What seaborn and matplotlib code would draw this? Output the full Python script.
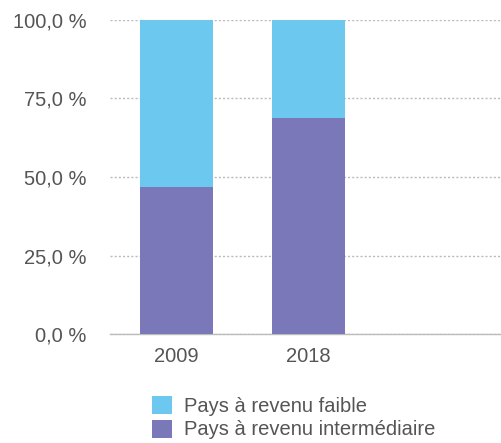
import matplotlib
matplotlib.use("Agg")
import matplotlib.pyplot as plt
import seaborn as sns
import pandas as pd
from matplotlib.patches import Patch

years = ["2009", "2018", ""]
intermediaire = [46.8, 68.8, 0.0]
faible = [53.2, 31.2, 0.0]
series_labels = ["Pays à revenu faible", "Pays à revenu intermédiaire"]
colors = ["#6DC8F0", "#7A78B8"]
yticks = [0, 25, 50, 75, 100]

sns.set_theme(style="white")
plt.rcParams['font.family'] = ['Liberation Sans', 'DejaVu Sans']

df = pd.DataFrame({"year": years, "inter": intermediaire,
                   "total": [a + b for a, b in zip(intermediaire, faible)]})

fig = plt.figure(figsize=(5.02, 4.43), dpi=100)
ax = fig.add_axes([0.219, 0.246, 0.781, 0.709])

sns.barplot(data=df, x="year", y="total", color=colors[0], width=0.55,
            saturation=1, ax=ax, zorder=3, linewidth=0)
sns.barplot(data=df, x="year", y="inter", color=colors[1], width=0.55,
            saturation=1, ax=ax, zorder=4, linewidth=0)

ax.set_xlim(-0.5, 2.46)
ax.set_ylim(0, 100)
ax.set_yticks(yticks)
ax.set_yticklabels([f"{v:.1f}".replace(".", ",") + " %" for v in yticks])
ax.set_xlabel("")
ax.set_ylabel("")
ax.yaxis.grid(True, linestyle=(0, (1.5, 1.5)), color="#BBBBBB", linewidth=1, zorder=0)
ax.xaxis.grid(False)
for s in ["left", "right", "top"]:
    ax.spines[s].set_visible(False)
ax.spines["bottom"].set_color("#BBBBBB")
ax.spines["bottom"].set_linewidth(1)
ax.tick_params(axis="y", length=0, pad=17, labelsize=14.5, labelcolor="#555555")
ax.tick_params(axis="x", length=0, pad=9, labelsize=14.5, labelcolor="#555555")

handles = [Patch(facecolor=c, label=l, linewidth=0) for c, l in zip(colors, series_labels)]
fig.legend(handles=handles, loc="upper left", bbox_to_anchor=(0.303, 0.107),
           frameon=False, fontsize=14.5, labelcolor="#555555",
           handlelength=1.0, handleheight=1.0, handletextpad=0.6, labelspacing=0.2,
           borderaxespad=0, borderpad=0)

fig.savefig("out.png", dpi=100)
